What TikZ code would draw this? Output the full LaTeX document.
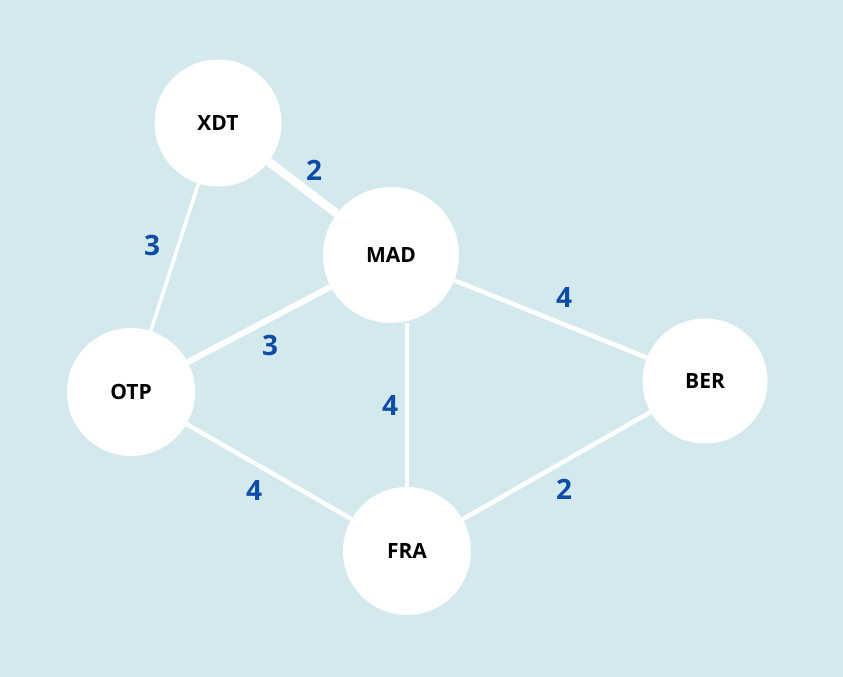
\documentclass[tikz,border=0pt]{standalone}
\usepackage{fontspec}
\setmainfont{Open Sans}
\usepackage{tikz}
\definecolor{bgblue}{RGB}{211,233,238}
\definecolor{weightblue}{RGB}{14,76,166}
\tikzset{
    city/.style={circle, fill=white, inner sep=0pt, font=\fontsize{21}{24}\selectfont\bfseries},
    link/.style={white, line width=4.5pt},
    thinlink/.style={link, line width=3.5pt},
    midlink/.style={link, line width=6pt},
    thicklink/.style={link, line width=8.5pt},
    weight/.style={text=weightblue, font=\fontsize{28}{30}\selectfont\bfseries}
}
\begin{document}
\begin{tikzpicture}[x=1pt, y=-1pt]
    \fill[bgblue] (0,0) rectangle (843,677);

    \node[city, minimum size=127pt] (xdt) at (218,123) {XDT};
    \node[city, minimum size=136pt] (mad) at (391,255) {MAD};
    \node[city, minimum size=128pt] (otp) at (131,392) {OTP};
    \node[city, minimum size=125pt] (ber) at (705,381) {BER};
    \node[city, minimum size=128pt] (fra) at (407,551) {FRA};

    % links (white on white, so order does not matter)
    \draw[thicklink] (xdt) -- (mad);
    \draw[thinlink] (xdt) -- (otp);
    \draw[midlink] (mad) -- (otp);
    \draw[link] (mad) -- (ber);
    \draw[link] (mad.south -| fra.north) -- (fra);
    \draw[link] (otp) -- (fra);
    \draw[link] (ber) -- (fra);

    \node[weight] (w-xdt-mad) at (314,170) {2};
    \node[weight] (w-xdt-otp) at (152,245) {3};
    \node[weight] (w-mad-otp) at (270,345) {3};
    \node[weight] (w-mad-ber) at (564,298) {4};
    \node[weight] (w-mad-fra) at (390,406) {4};
    \node[weight] (w-otp-fra) at (254,490) {4};
    \node[weight] (w-ber-fra) at (564,489) {2};
\end{tikzpicture}
\end{document}
